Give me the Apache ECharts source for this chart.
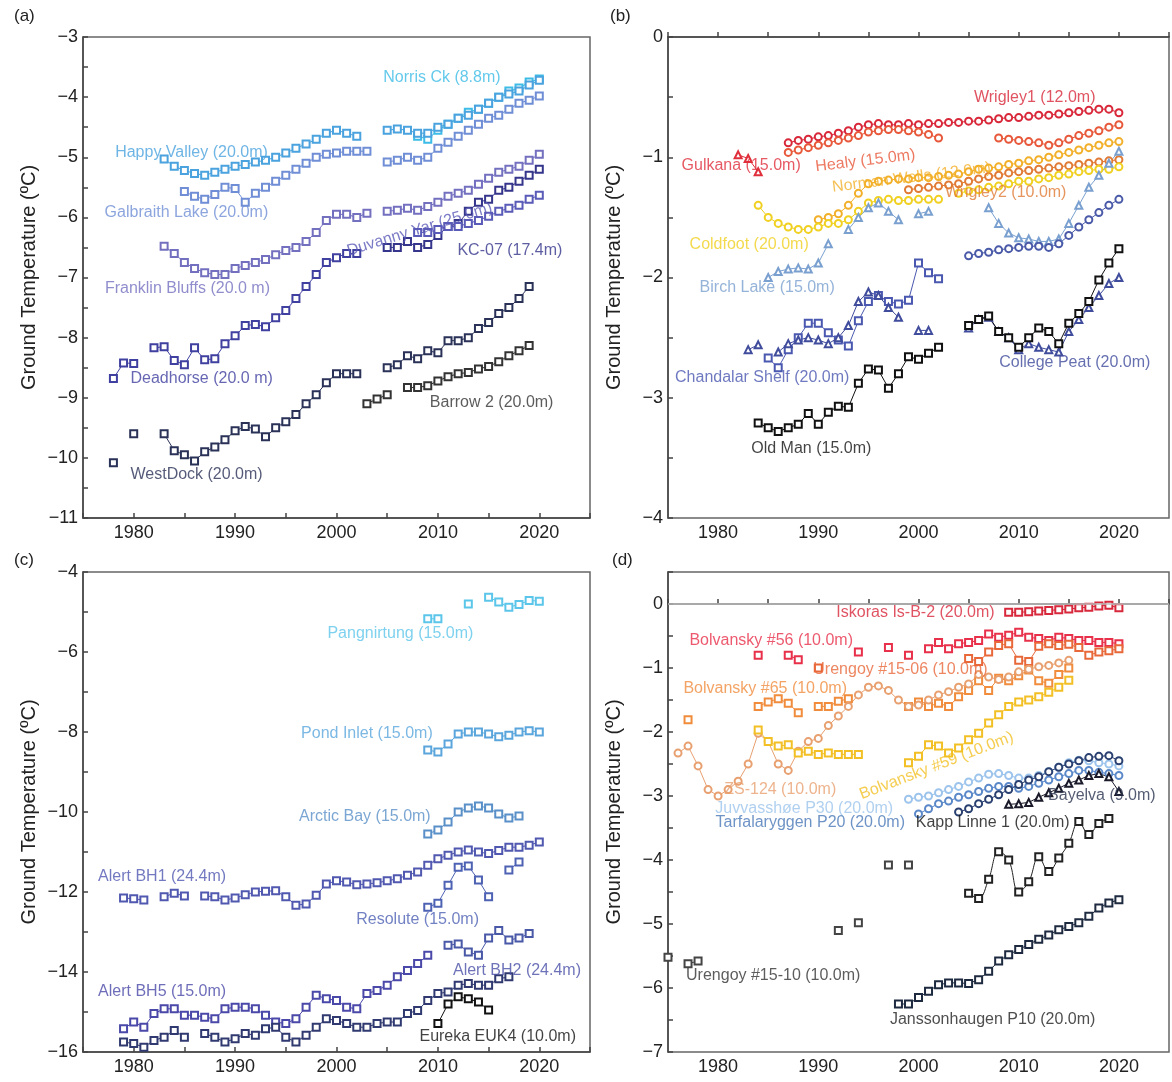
<!DOCTYPE html>
<html>
<head>
<meta charset="utf-8">
<script src="https://cdn.jsdelivr.net/npm/echarts/dist/echarts.min.js"></script>
<style>
  html, body { margin: 0; padding: 0; background: #fff; }
  #chart { width: 1172px; height: 1082px; }
</style>
</head>
<body>
<div id="chart"></div>
<script>
const gap = n => Array(n).fill(null);

// every station array: first entry = first year, then one value per year (null = no data)

// (a) Alaska North Slope
const norrisCk   = [2008, -4.65,-4.7,-4.55,-4.45,-4.35,-4.25,-4.2,-4.1,-4.0,-3.9,-3.85,-3.75,-3.7];
const happyValley = [1983, -5.03,-5.15,-5.22,-5.27,-5.3,-5.25,-5.2,-5.15,-5.12,-5.08,-5.05,-5.0,-4.93,-4.85,-4.78,-4.7,-4.6,-4.55,-4.6,-4.65,
  null,null, -4.55,-4.53,-4.55,-4.6,-4.6,-4.5,-4.45,-4.35,-4.3,-4.2,-4.1,-4.0,-3.95,-3.9,-3.8,-3.72];
const galbraith  = [1985, -5.57,-5.65,-5.7,-5.62,-5.5,-5.52,-5.75,-5.6,-5.5,-5.4,-5.3,-5.2,-5.1,-5.0,-4.95,-4.93,-4.9,-4.9,-4.9,
  null, -5.08,-5.05,-5.0,-5.05,-5.0,-4.85,-4.75,-4.65,-4.55,-4.45,-4.35,-4.3,-4.2,-4.1,-4.05,-3.98];
const franklin   = [1983, -6.48,-6.6,-6.75,-6.85,-6.92,-6.95,-6.95,-6.85,-6.8,-6.75,-6.7,-6.62,-6.55,-6.5,-6.4,-6.25,-6.05,-5.95,-5.95,-6.0,-5.93,
  null, -5.9,-5.88,-5.85,-5.88,-5.82,-5.75,-5.65,-5.6,-5.55,-5.45,-5.35,-5.25,-5.2,-5.15,-5.05,-4.95];
const kc07       = [2005, -6.5,-6.5,-6.4,-6.5,-6.45,-6.3,-6.15,-6.1,-5.9,-5.75,-5.7,-5.55,-5.5,-5.4,-5.3,-5.2];
const duvanny    = [2008, -6.25,-6.25,-6.2,-6.15,-6.15,-6.1,-6.05,-5.98,-5.9,-5.85,-5.8,-5.7,-5.63];
const deadhorse  = [1978, -8.68,-8.42,-8.43, null, -8.17,-8.15,-8.38,-8.45,-8.17,-8.37,-8.35,-8.1,-7.97,-7.8,-7.78,-7.82,-7.67,-7.55,-7.35,-7.15,-6.95,-6.75,-6.67,-6.6,-6.6];
const westDock   = [1978, -10.08, null, -9.6, null, null, -9.6,-9.88,-9.95,-10.05,-9.9,-9.82,-9.7,-9.55,-9.48,-9.52,-9.65,-9.5,-9.4,-9.28,-9.1,-8.95,-8.75,-8.6,-8.6,-8.6,
  null,null, -8.5,-8.45,-8.3,-8.35,-8.22,-8.25,-8.05,-8.05,-8.0,-7.85,-7.75,-7.6,-7.5,-7.35,-7.15];
const barrow2    = [2003, -9.1,-9.02,-8.95, null, -8.83,-8.83,-8.8,-8.72,-8.65,-8.6,-8.58,-8.52,-8.48,-8.4,-8.3,-8.22,-8.13];

// (b) Interior Alaska / NW Canada
const wrigley1   = [1987, -0.88,-0.86,-0.85,-0.83,-0.82,-0.8,-0.78,-0.75,-0.73,-0.72,-0.73,-0.73,-0.72,-0.73,-0.72,-0.72,-0.71,-0.71,-0.7,-0.7,
  -0.69,-0.68,-0.67,-0.67,-0.66,-0.65,-0.65,-0.64,-0.63,-0.62,-0.61,-0.6,-0.6,-0.63];
const healy      = [1987, -0.96,-0.94,-0.92,-0.9,-0.88,-0.86,-0.84,-0.82,-0.79,-0.78,-0.77,-0.77,-0.78,-0.79,-0.81,-0.84,
  ...gap(5), -0.84,-0.85,-0.86,-0.87,-0.88,-0.9,-0.88,-0.85,-0.82,-0.8,-0.78,-0.75,-0.73];
const gulkana    = [1982, -0.98,-1.01,-1.12];
const normanWells = [1990, -1.52,-1.5,-1.47,-1.4,-1.3,-1.22,-1.2,-1.19,-1.18,-1.18,-1.17,-1.17,-1.16,-1.15,-1.14,-1.12,-1.1,-1.09,-1.08,-1.06,
  -1.05,-1.03,-1.02,-1.0,-0.98,-0.96,-0.94,-0.92,-0.9,-0.88,-0.87];
const wrigley2   = [1999, -1.27,-1.26,-1.25,-1.24,-1.23,-1.22,-1.2,-1.18,-1.16,-1.15,-1.13,-1.12,-1.11,-1.1,-1.09,-1.08,-1.07,-1.06,-1.05,-1.04,-1.03,-1.02];
const coldfoot   = [1984, -1.4,-1.5,-1.55,-1.58,-1.6,-1.6,-1.58,-1.55,-1.55,-1.52,-1.45,-1.38,-1.36,-1.35,-1.36,-1.36,-1.35,-1.35,-1.35,
  null, -1.3,-1.28,-1.27,-1.25,-1.24,-1.22,-1.2,-1.2,-1.18,-1.17,-1.15,-1.14,-1.12,-1.11,-1.1,-1.1,-1.08];
const birchLake  = [1985, -2.0,-1.95,-1.93,-1.92,-1.93,-1.88,-1.72, null, -1.6,-1.5,-1.42,-1.38,-1.45,-1.52, null, -1.47,-1.45,
  ...gap(5), -1.42,-1.55,-1.63,-1.67,-1.68,-1.7,-1.7,-1.68,-1.55,-1.4,-1.25,-1.15,-1.05,-0.95];
const bNavy      = [2005, -1.82,-1.8,-1.79,-1.77,-1.76,-1.75,-1.74,-1.74,-1.75,-1.72,-1.65,-1.58,-1.52,-1.46,-1.4,-1.35];
const chandalar  = [1985, -2.67,-2.75,-2.6,-2.5,-2.38,-2.38,-2.46,-2.52,-2.57,-2.36,-2.2,-2.15,-2.2,-2.22,-2.19,-1.88,-1.96,-2.01];
const collegePeat = [1983, -2.6,-2.56, null, -2.62,-2.55,-2.52,-2.5,-2.52,-2.55,-2.5,-2.4,-2.2,-2.12,-2.15,-2.25,-2.33, null, -2.44,-2.44,
  null,null,null, -2.42,-2.35,-2.33,-2.45,-2.5,-2.6,-2.55,-2.58,-2.6,-2.62,-2.45,-2.35,-2.25,-2.15,-2.05,-2.0];
const oldMan     = [1984, -3.21,-3.25,-3.28,-3.25,-3.22,-3.13,-3.22,-3.12,-3.07,-3.08,-2.88,-2.76,-2.77,-2.92,-2.8,-2.66,-2.68,-2.63,-2.58,
  null,null, -2.4,-2.35,-2.32,-2.45,-2.5,-2.58,-2.5,-2.42,-2.45,-2.55,-2.38,-2.3,-2.2,-2.02,-1.88,-1.76];

// (c) Canadian High Arctic
const pangnirtung = [2009, -5.17,-5.17, null,null, -4.8, null, -4.63,-4.75,-4.88,-4.81,-4.71,-4.73];
const pondInlet  = [2009, -8.45,-8.5,-8.3,-8.05,-8.0,-8.0,-8.05,-8.12,-8.08,-8.0,-7.97,-8.0];
const arcticBay  = [2009, -10.55,-10.45,-10.25,-10.0,-9.9,-9.85,-9.9,-10.05,-10.15,-10.1];
const alertBH1   = [1979, -12.15,-12.17,-12.2, null, -12.12,-12.03,-12.1, null, -12.1,-12.12,-12.2,-12.15,-12.07,-12.0,-11.98,-11.97,-12.12,-12.33,-12.3,-12.08,
  -11.8,-11.72,-11.75,-11.82,-11.8,-11.77,-11.72,-11.67,-11.58,-11.5,-11.33,-11.17,-11.08,-11.0,-10.95,-11.0,-11.04,-10.96,-10.88,-10.88,-10.83,-10.75];
const resolute   = [2009, -12.38,-12.28,-11.83,-11.38,-11.35,-11.7,-12.12, null, -11.45,-11.25];
const alertBH2   = [2011, -13.33,-13.3,-13.5,-13.58,-13.15,-12.96,-13.2,-13.15,-13.04];
const alertBH5   = [1979, -15.42,-15.25,-15.38,-15.04,-14.92,-14.92,-15.08,-15.08,-15.13,-15.17,-14.92,-14.88,-14.88,-14.92,-15.08,-15.25,-15.29,-15.17,
  -14.88,-14.58,-14.67,-14.71,-14.88,-14.92,-14.54,-14.46,-14.33,-14.12,-13.96,-13.79,-13.58];
const alertDeep  = [1979, -15.75,-15.79,-15.88,-15.71,-15.63,-15.46,-15.63, null, -15.54,-15.63,-15.75,-15.67,-15.54,-15.58,-15.42,-15.38,-15.63,-15.75,
  -15.58,-15.38,-15.17,-15.21,-15.29,-15.38,-15.38,-15.29,-15.25,-15.25,-15.04,-14.96,-14.71,-14.54,-14.5,-14.33,-14.29,-14.33,-14.33,-14.17,-14.12];
const eureka     = [2010, -15.29,-14.8,-14.62,-14.67,-14.75,-14.95];

// (d) Nordic countries / Russia
const iskoras    = [2009, -0.13,-0.13,-0.12,-0.11,-0.1,-0.09,-0.08,-0.06,-0.05,-0.03,-0.02,-0.06];
const bolv56     = [1984, -0.8, null,null, -0.8,-0.87, ...gap(5), -0.75, null,null, -0.68, null, -0.8, null,
  -0.7,-0.6,-0.7,-0.62,-0.6,-0.57,-0.47,-0.52,-0.49,-0.44,-0.52,-0.54,-0.57,-0.52,-0.54,-0.57,-0.57,-0.6,-0.6,-0.62];
const urengoy1506 = [1990, -1.0, ...gap(14), -0.85,-0.9,-0.75,-0.65,-0.62,-0.88,-0.9,-0.66,-0.62,-0.65,-0.63,-0.68,-0.8,-0.75,-0.73,-0.7];
const bolv65     = [1977, -1.81, ...gap(6), -1.6,-1.53,-1.48,-1.55,-1.7, null, -1.6,-1.6,-1.52,-1.48, ...gap(5),
  -1.6,-1.53,-1.6,-1.55,-1.6,-1.45,-1.35,-1.2,-1.35,-1.16,-1.2,-1.12,-1.03,-1.2,-1.24,-1.1,-1.0];
const zs124      = [1976, -2.33,-2.22,-2.53,-2.9,-3.0,-2.9,-2.77,-2.5,-2.02,-2.15,-2.5,-2.6,-2.3,-2.15,-2.1,-1.9,-1.75,-1.6,-1.42,-1.3,
  -1.28,-1.35,-1.5,-1.6,-1.58,-1.5,-1.42,-1.37,-1.3,-1.25,-1.1,-1.14,-1.18,-1.14,-1.06,-1.02,-0.98,-0.96,-0.92,-0.88];
const bolv59     = [1984, -1.97,-2.15,-2.22,-2.2,-2.33,-2.3,-2.35,-2.33,-2.35,-2.35,-2.35, ...gap(4),
  -2.48,-2.38,-2.2,-2.22,-2.33,-2.25,-2.12,-2.02,-1.86,-1.73,-1.6,-1.53,-1.5,-1.45,-1.38,-1.3,-1.19];
const juvvass    = [1999, -3.05,-3.02,-3.0,-2.95,-2.9,-2.85,-2.78,-2.72,-2.66,-2.65,-2.68,-2.72,-2.72,-2.68,-2.62,-2.55,-2.48,-2.44,-2.45,-2.48,-2.5,-2.53];
const tarfala    = [2000, -3.28,-3.2,-3.12,-3.08,-3.02,-2.98,-2.93,-2.88,-2.85,-2.85,-2.88,-2.85,-2.8,-2.75,-2.7,-2.65,-2.6,-2.6,-2.63,-2.65,-2.68];
const dNavy      = [2004, -3.25,-3.2,-3.12,-3.05,-2.98,-2.9,-2.82,-2.75,-2.7,-2.62,-2.55,-2.5,-2.45,-2.4,-2.38,-2.37,-2.45];
const bayelva    = [2009, -3.13,-3.12,-3.1,-3.02,-2.95,-2.88,-2.8,-2.75,-2.68,-2.65,-2.7,-2.93];
const kappLinne  = [2005, -4.52,-4.6,-4.3,-3.87,-4.0,-4.5,-4.34,-3.95,-4.18,-3.97,-3.74,-3.4,-3.6,-3.43,-3.35];
const urengoy1510 = [1975, -5.52, null, -5.62,-5.58, ...gap(13), -5.1, null, -4.98, null,null, -4.08, null, -4.08];
const janss      = [1998, -6.25,-6.25,-6.15,-6.05,-5.95,-5.92,-5.92,-5.93,-5.87,-5.74,-5.58,-5.48,-5.4,-5.32,-5.24,-5.17,-5.09,-5.04,-4.98,-4.88,-4.75,-4.67,-4.62];

// station name annotations: [text, year, value, colour, rotation]
const namesA = [
  ['Norris Ck (8.8m)', 2010.4, -3.68, '#3cbce6', 0],
  ['Happy Valley (20.0m)', 1985.7, -4.93, '#4aa2de', 0],
  ['Galbraith Lake (20.0m)', 1985.2, -5.92, '#6f8ed6', 0],
  ['Duvanny Yar (25.0m)', 2008.2, -6.2, '#5a5ab8', 17],
  ['KC-07 (17.4m)', 2017.1, -6.55, '#35358c', 0],
  ['Franklin Bluffs (20.0 m)', 1985.3, -7.18, '#7470c0', 0],
  ['Deadhorse (20.0 m)', 1986.7, -8.68, '#4040a0', 0],
  ['Barrow 2 (20.0m)', 2015.3, -9.08, '#333333', 0],
  ['WestDock (20.0m)', 1986.2, -10.27, '#2a3258', 0]
];
const namesB = [
  ['Wrigley1 (12.0m)', 2011.6, -0.5, '#d8283a', 0],
  ['Gulkana (15.0m)', 1982.3, -1.07, '#e0303c', 0],
  ['Healy (15.0m)', 1994.7, -1.03, '#e8583a', 7],
  ['Norman Wells (12.0m)', 1999.3, -1.17, '#f2b02a', 7],
  ['Wrigley2 (10.0m)', 2008.7, -1.29, '#e07a34', 0],
  ['Coldfoot (20.0m)', 1983.1, -1.73, '#f0d020', 0],
  ['Birch Lake (15.0m)', 1984.9, -2.08, '#7aa0d0', 0],
  ['Chandalar Shelf (20.0m)', 1984.4, -2.83, '#4a58b0', 0],
  ['College Peat (20.0m)', 2015.6, -2.71, '#404c9c', 0],
  ['Old Man (15.0m)', 1989.3, -3.42, '#111111', 0]
];
const namesC = [
  ['Pangnirtung (15.0m)', 2006.3, -5.54, '#5cc6ea', 0],
  ['Pond Inlet (15.0m)', 2003.0, -8.04, '#5aa6dc', 0],
  ['Arctic Bay (15.0m)', 2002.8, -10.12, '#5a90c8', 0],
  ['Alert BH1 (24.4m)', 1982.8, -11.62, '#5058b0', 0],
  ['Resolute (15.0m)', 2008.0, -12.7, '#4e62b4', 0],
  ['Alert BH2 (24.4m)', 2017.8, -13.96, '#4a50a8', 0],
  ['Alert BH5 (15.0m)', 1982.8, -14.5, '#4a48a8', 0],
  ['Eureka EUK4 (10.0m)', 2015.9, -15.62, '#111111', 0]
];
const namesD = [
  ['Iskoras Is-B-2 (20.0m)', 1999.7, -0.13, '#d8283c', 0],
  ['Bolvansky #56 (10.0m)', 1985.3, -0.57, '#e8304a', 0],
  ['Urengoy #15-06 (10.0m)', 1998.2, -1.03, '#e8683a', 0],
  ['Bolvansky #65 (10.0m)', 1984.7, -1.32, '#f08c3c', 0],
  ['ZS-124 (10.0m)', 1986.2, -2.9, '#e8a070', 0],
  ['Bolvansky #59 (10.0m)', 2001.8, -2.53, '#f2c024', 21],
  ['Juvvasshøe P30 (20.0m)', 1988.6, -3.2, '#9cc4ec', 0],
  ['Tarfalaryggen P20 (20.0m)', 1989.2, -3.42, '#4a78b8', 0],
  ['Kapp Linne 1 (20.0m)', 2007.4, -3.42, '#111111', 0],
  ['Bayelva (9.0m)', 2018.3, -3.0, '#2a3450', 0],
  ['Urengoy #15-10 (10.0m)', 1985.5, -5.8, '#333333', 0],
  ['Janssonhaugen P10 (20.0m)', 2007.4, -6.5, '#222222', 0]
];

const FONT = '"Liberation Sans", Arial, sans-serif';
const MINUS = '\u2212';

// panel layout and y ranges: [min, max, tick step, label step]
const grids = [
  { left: 83, top: 37, width: 507, height: 481 },
  { left: 668, top: 37, width: 507, height: 481 },
  { left: 83, top: 572, width: 507, height: 480 },
  { left: 668, top: 572, width: 507, height: 480 }
];
const yRanges = [[-11, -3, 0.5, 1], [-4, 0, 0.5, 1], [-16, -4, 1, 2], [-7, 0.5, 0.5, 1]];

function pairs(arr) {
  const y0 = arr[0];
  return arr.slice(1).map((v, i) => [y0 + i, v == null ? '-' : v]);
}

function line(p, name, arr, color, symbol, extra) {
  return Object.assign({
    type: 'line', name: name, xAxisIndex: p, yAxisIndex: p,
    data: pairs(arr),
    symbol: symbol || 'emptyRect', symbolSize: 7, showSymbol: true,
    connectNulls: false,
    lineStyle: { color: color, width: 1 },
    itemStyle: { color: color, borderWidth: 1 },
    z: 3
  }, extra || {});
}

function names(p, list) {
  return {
    type: 'scatter', xAxisIndex: p, yAxisIndex: p, silent: true, z: 10,
    symbolSize: 0,
    data: list.map(d => ({
      name: d[0], value: [d[1], d[2]],
      label: { color: d[3], rotate: d[4] }
    })),
    label: { show: true, position: 'inside', formatter: '{b}', fontFamily: FONT, fontSize: 16 }
  };
}

const series = [
  line(0, 'Norris Ck', norrisCk, '#3cbce6'),
  line(0, 'Happy Valley', happyValley, '#4aa2de'),
  line(0, 'Galbraith Lake', galbraith, '#6f8ed6'),
  line(0, 'Franklin Bluffs', franklin, '#7470c0'),
  line(0, 'KC-07', kc07, '#35358c'),
  line(0, 'Duvanny Yar', duvanny, '#5a5ab8'),
  line(0, 'Deadhorse', deadhorse, '#4040a0'),
  line(0, 'WestDock', westDock, '#2a3258'),
  line(0, 'Barrow 2', barrow2, '#333333'),

  line(1, 'Wrigley1', wrigley1, '#d8283a', 'emptyCircle'),
  line(1, 'Healy', healy, '#e8583a', 'emptyCircle'),
  line(1, 'Gulkana', gulkana, '#e0303c', 'emptyTriangle'),
  line(1, 'Norman Wells', normanWells, '#f2b02a', 'emptyCircle'),
  line(1, 'Wrigley2', wrigley2, '#e07a34', 'emptyCircle'),
  line(1, 'Coldfoot', coldfoot, '#f0d020', 'emptyCircle'),
  line(1, 'Birch Lake', birchLake, '#7aa0d0', 'emptyTriangle'),
  line(1, 'Birch Lake 2', bNavy, '#4a5aa8', 'emptyCircle'),
  line(1, 'Chandalar Shelf', chandalar, '#4a58b0'),
  line(1, 'College Peat', collegePeat, '#404c9c', 'emptyTriangle'),
  line(1, 'Old Man', oldMan, '#111111'),

  line(2, 'Pangnirtung', pangnirtung, '#5cc6ea'),
  line(2, 'Pond Inlet', pondInlet, '#5aa6dc'),
  line(2, 'Arctic Bay', arcticBay, '#5a90c8'),
  line(2, 'Alert BH1', alertBH1, '#5058b0'),
  line(2, 'Resolute', resolute, '#4e62b4'),
  line(2, 'Alert BH2', alertBH2, '#4a58a8'),
  line(2, 'Alert BH5', alertBH5, '#4a48a8'),
  line(2, 'Alert deep', alertDeep, '#303a70'),
  line(2, 'Eureka EUK4', eureka, '#111111'),

  line(3, 'Iskoras Is-B-2', iskoras, '#d8283c', 'emptyRect', {
    markLine: {
      silent: true, symbol: 'none', label: { show: false },
      lineStyle: { color: '#bdbdbd', type: 'solid', width: 1.5 },
      data: [{ yAxis: 0 }]
    }
  }),
  line(3, 'Bolvansky #56', bolv56, '#e8304a'),
  line(3, 'Urengoy #15-06', urengoy1506, '#e8683a'),
  line(3, 'Bolvansky #65', bolv65, '#f08c3c'),
  line(3, 'ZS-124', zs124, '#e8a070', 'emptyCircle'),
  line(3, 'Bolvansky #59', bolv59, '#f2c024'),
  line(3, 'Juvvasshøe P30', juvvass, '#9cc4ec', 'emptyCircle'),
  line(3, 'Tarfalaryggen P20', tarfala, '#5a88c8', 'emptyCircle'),
  line(3, 'Svalbard', dNavy, '#2a4070', 'emptyCircle'),
  line(3, 'Bayelva', bayelva, '#1a1a2a', 'emptyTriangle'),
  line(3, 'Kapp Linne 1', kappLinne, '#222222', 'emptyRect', { smooth: 0.4 }),
  line(3, 'Urengoy #15-10', urengoy1510, '#444444'),
  line(3, 'Janssonhaugen P10', janss, '#1e2a40'),

  names(0, namesA), names(1, namesB), names(2, namesC), names(3, namesD)
];

const axisLineStyle = { color: '#444', width: 1.5 };

const option = {
  animation: false,
  backgroundColor: '#fff',
  textStyle: { fontFamily: FONT },
  grid: grids.map(g => Object.assign({ show: true, borderColor: '#666', borderWidth: 1.5, containLabel: false }, g)),
  xAxis: grids.map((g, i) => ({
    type: 'value', gridIndex: i, min: 1975, max: 2025, interval: 5,
    axisLine: { lineStyle: axisLineStyle },
    axisTick: { inside: true, length: 5, lineStyle: axisLineStyle },
    splitLine: { show: false },
    axisLabel: {
      fontSize: 18, color: '#222', margin: 6, fontFamily: FONT,
      formatter: v => (v % 10 === 0 ? String(v) : '')
    }
  })),
  yAxis: yRanges.map((r, i) => ({
    type: 'value', gridIndex: i, min: r[0], max: r[1], interval: r[2],
    name: 'Ground Temperature (\u00baC)', nameLocation: 'middle', nameGap: 44,
    nameTextStyle: { fontSize: 20, color: '#222', fontFamily: FONT },
    axisLine: { lineStyle: axisLineStyle },
    axisTick: { inside: true, length: 5, lineStyle: axisLineStyle },
    splitLine: { show: false },
    axisLabel: {
      fontSize: 18, color: '#222', margin: 5, fontFamily: FONT,
      formatter: v => (Number.isInteger(v) && v % r[3] === 0 ? String(v).replace('-', MINUS) : '')
    }
  })),
  graphic: [
    { type: 'text', left: 14, top: 8, style: { text: '(a)', fontSize: 17, fill: '#222', fontFamily: FONT } },
    { type: 'text', left: 610, top: 8, style: { text: '(b)', fontSize: 17, fill: '#222', fontFamily: FONT } },
    { type: 'text', left: 14, top: 552, style: { text: '(c)', fontSize: 17, fill: '#222', fontFamily: FONT } },
    { type: 'text', left: 612, top: 552, style: { text: '(d)', fontSize: 17, fill: '#222', fontFamily: FONT } }
  ],
  series: series
};

const chart = echarts.init(document.getElementById('chart'), null, { renderer: 'canvas' });
chart.setOption(option);
</script>
</body>
</html>
